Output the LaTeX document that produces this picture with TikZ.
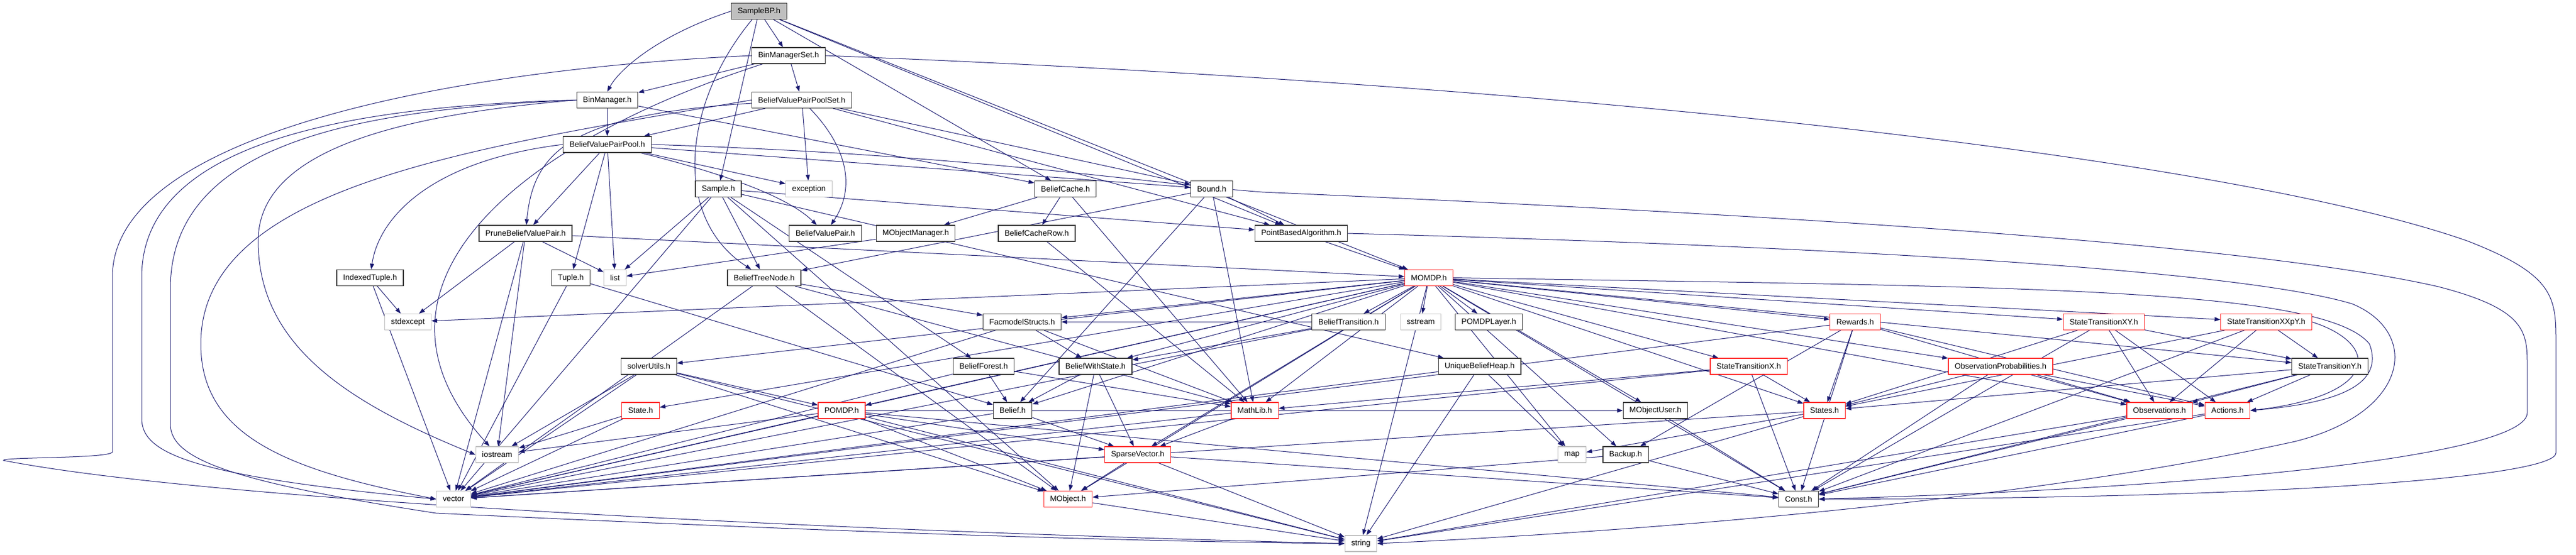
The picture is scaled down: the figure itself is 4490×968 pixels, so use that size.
\documentclass[tikz,border=0pt]{standalone}
\usepackage{fontspec}
\setmainfont{Liberation Sans}
\usetikzlibrary{arrows.meta, backgrounds}
\definecolor{incblue}{HTML}{191970}
\definecolor{sysgrey}{HTML}{BFBFBF}
\tikzstyle{hdr}=[rectangle,draw=black!80,fill=white,line width=0.6pt,minimum height=14pt,inner xsep=5.5pt,inner ysep=0pt,font=\fontsize{6.85}{8}\selectfont]
\tikzstyle{sys}=[hdr,draw=sysgrey]
\tikzstyle{cut}=[hdr,draw=red!85!white]
\tikzstyle{root}=[hdr,fill=sysgrey]
\tikzstyle{inc}=[incblue,line width=0.5pt,-{Triangle[length=5pt,width=3.6pt]}]

\begin{document}
\begin{tikzpicture}[x=0.5pt,y=-0.5pt]
\useasboundingbox (0,0) rectangle (4490,968);
% the header itself
\node[root] (sbp) at (1323,19.5) {SampleBP.h};
% documented headers
\foreach \n/\x/\y/\t in {bms/1374.5/97/BinManagerSet.h, bm/1058.5/174.5/BinManager.h, bvpps/1397.5/174.5/BeliefValuePairPoolSet.h,
    bvpp/1058.5/252/BeliefValuePairPool.h, smp/1252/329.5/Sample.h, bc/1857/329.5/BeliefCache.h, bnd/2112/329.5/Bound.h,
    pbvp/916/407/PruneBeliefValuePair.h, bvp/1438.5/407/BeliefValuePair.h, mom/1596/407/MObjectManager.h,
    bcr/1807/407/BeliefCacheRow.h, pba/2268/407/PointBasedAlgorithm.h, itp/645/484.5/IndexedTuple.h, tpl/995/484.5/Tuple.h,
    btn/1332/484.5/BeliefTreeNode.h, fms/1781.5/561.5/FacmodelStructs.h, btr/2350.5/561.5/BeliefTransition.h,
    pl/2595/561.5/POMDPLayer.h, su/1131/639/solverUtils.h, bf/1714.5/639/BeliefForest.h, bws/1909.5/639/BeliefWithState.h,
    ubh/2579/639/UniqueBeliefHeap.h, sty/4061/639/StateTransitionY.h, bel/1765/716/Belief.h, mou/2885.5/716/MObjectUser.h,
    bak/2833.5/793/Backup.h, cst/3135/870.5/Const.h}
    \node[hdr] (\n) at (\x,\y) {\t};
% headers with hidden includes
\foreach \n/\x/\y/\t in {momdp/2490.5/484.5/MOMDP.h, rew/3233.5/561.5/Rewards.h, stxy/3667/561.5/StateTransitionXY.h,
    stxxpy/3950/561.5/StateTransitionXXpY.h, stx/3048/639/StateTransitionX.h, obp/3487/639/ObservationProbabilities.h,
    st/1116.5/716/State.h, pomdp/1467/716/POMDP.h, ml/2187/716/MathLib.h, sts/3180/716/States.h,
    obs/3764/716/Observations.h, act/3882.5/716/Actions.h, spv/1983/793/SparseVector.h, mob/1861.5/870.5/MObject.h}
    \node[cut] (\n) at (\x,\y) {\t};
% system headers
\foreach \n/\x/\y/\t in {exc/1410/329.5/exception, lst/1072/484.5/list, stdx/711/561.5/stdexcept, sst/2476.5/561.5/sstream,
    ios/866.5/793/iostream, map/2740/793/map, vec/790.5/870.5/vector, str/2372/948/string}
    \node[sys] (\n) at (\x,\y) {\t};

\begin{scope}[on background layer]
% straight includes
\foreach \a/\b in {sbp/bms, sbp/smp, sbp/bc, sbp/pba, sbp/momdp,
    bms/bm, bms/bvpps,
    bm/bvpp, bm/bc,
    bvpps/bvpp, bvpps/exc, bvpps/bnd, bvpps/pba,
    bvpp/pbvp, bvpp/tpl, bvpp/lst, bvpp/exc, bvpp/bnd,
    pbvp/lst, pbvp/ios, pbvp/vec, pbvp/stdx, pbvp/momdp,
    smp/lst, smp/btn, smp/bf, smp/pba, smp/mob, smp/vec, smp/ubh,
    bc/mom, bc/bcr, bc/ml,
    bnd/pba, bnd/ml, bnd/bel, bnd/btn, pba/momdp,
    mom/lst, bcr/ml,
    itp/stdx, itp/vec, tpl/vec, tpl/bel,
    btn/vec, btn/ml, btn/mob, btn/fms,
    fms/bws, fms/ml, fms/vec,
    btr/bws, btr/fms, btr/vec,
    su/ios, su/pomdp, su/mob, su/str, su/vec,
    bf/bel, bf/ml, bf/vec,
    bws/bel, bws/mob, bws/spv,
    ubh/map, ubh/vec, ubh/str,
    st/ios, st/vec,
    pomdp/ios, pomdp/vec, pomdp/spv, pomdp/mob, pomdp/cst, pomdp/str, pomdp/mou,
    bel/spv, bel/vec, ml/spv, ml/vec,
    spv/mob, spv/cst, spv/str, spv/vec, mob/str,
    mou/cst, bak/mob, bak/cst,
    sts/str, sts/vec, sts/map, obs/str, obs/cst, act/cst, act/str,
    rew/sts, rew/cst, rew/act, rew/obs, rew/vec, rew/bak,
    stx/sts, stx/cst, stx/ml, stx/vec,
    stxy/sts, stxy/cst, stxy/obs, stxy/act, stxy/sty,
    stxxpy/sty, stxxpy/obs, stxxpy/sts, stxxpy/cst,
    obp/sts, obp/obs, obp/act, obp/cst,
    sty/obs, sty/act, sty/cst, sty/sts,
    momdp/btr, momdp/sst, momdp/pl, momdp/stdx, momdp/fms, momdp/su, momdp/vec, momdp/ml, momdp/mob,
    momdp/bel, momdp/bws, momdp/map, momdp/str, momdp/mou, momdp/bak, momdp/rew, momdp/stxy,
    momdp/stxxpy, momdp/stx, momdp/obp, momdp/sty, momdp/sts, momdp/cst, momdp/obs, momdp/spv,
    momdp/st, momdp/pomdp}
    \draw[inc] (\a) -- (\b);
% curved includes
\draw[inc] (sbp.west) .. controls (1150,60) and (1080,120) .. (bm.north);
\draw[inc] (sbp) .. controls (1190,180) and (1170,380) .. (btn);
\draw[inc] (bvpps) .. controls (1480,260) and (1490,330) .. (bvp);
\draw[inc] (bvpp) .. controls (1250,300) and (1370,340) .. (bvp);
\draw[inc] (bvpps) .. controls (1000,200) and (930,260) .. (pbvp);
\draw[inc] (bvpp.west) .. controls (750,280) and (660,380) .. (itp);
% loops round the left side
\draw[inc] (bms.west) .. controls (800,120) and (200,230) .. (196,480) -- (196,788)
    .. controls (196,800) and (0,797) .. (6,803) .. controls (400,880) and (1600,930) .. (str.west);
\draw[inc] (bm.west) .. controls (600,185) and (250,250) .. (247,480) -- (247,730)
    .. controls (247,790) and (330,830) .. (vec.west);
\draw[inc] (bm.west) .. controls (650,190) and (300,240) .. (297,500) -- (297,740)
    .. controls (297,800) and (400,840) .. (760,895) .. controls (1500,930) and (2000,945) .. (str.west);
\draw[inc] (bm.west) .. controls (700,200) and (450,260) .. (450,420) .. controls (450,600) and (600,700) .. (ios.west);
\draw[inc] (bvpps.west) .. controls (800,260) and (350,330) .. (350,600) .. controls (350,760) and (500,820) .. (vec.west);
\draw[inc] (bms) .. controls (900,250) and (600,500) .. (ios);
% loops round the right side
\draw[inc] (bms.east) .. controls (2800,150) and (3900,280) .. (4300,420) .. controls (4455,480) and (4455,520) .. (4455,600)
    -- (4455,790) .. controls (4455,830) and (4000,870) .. (cst.east);
\draw[inc] (bvpp.east) .. controls (1700,270) and (2000,320) .. (2200,335) .. controls (3000,370) and (3900,420) .. (4250,500)
    .. controls (4405,540) and (4405,580) .. (4405,640) -- (4405,720) .. controls (4405,790) and (3900,850) .. (cst.east);
\draw[inc] (pba.east) .. controls (3200,430) and (3900,470) .. (4100,530) .. controls (4220,580) and (4200,720) .. (4000,770)
    .. controls (3500,880) and (2800,930) .. (str.east);
\draw[inc] (momdp.east) .. controls (3500,500) and (4050,500) .. (4130,600) .. controls (4160,680) and (4050,705) .. (act.east);
\draw[inc] (stxxpy.east) .. controls (4150,600) and (4150,690) .. (act.east);
\end{scope}
\end{tikzpicture}
\end{document}
